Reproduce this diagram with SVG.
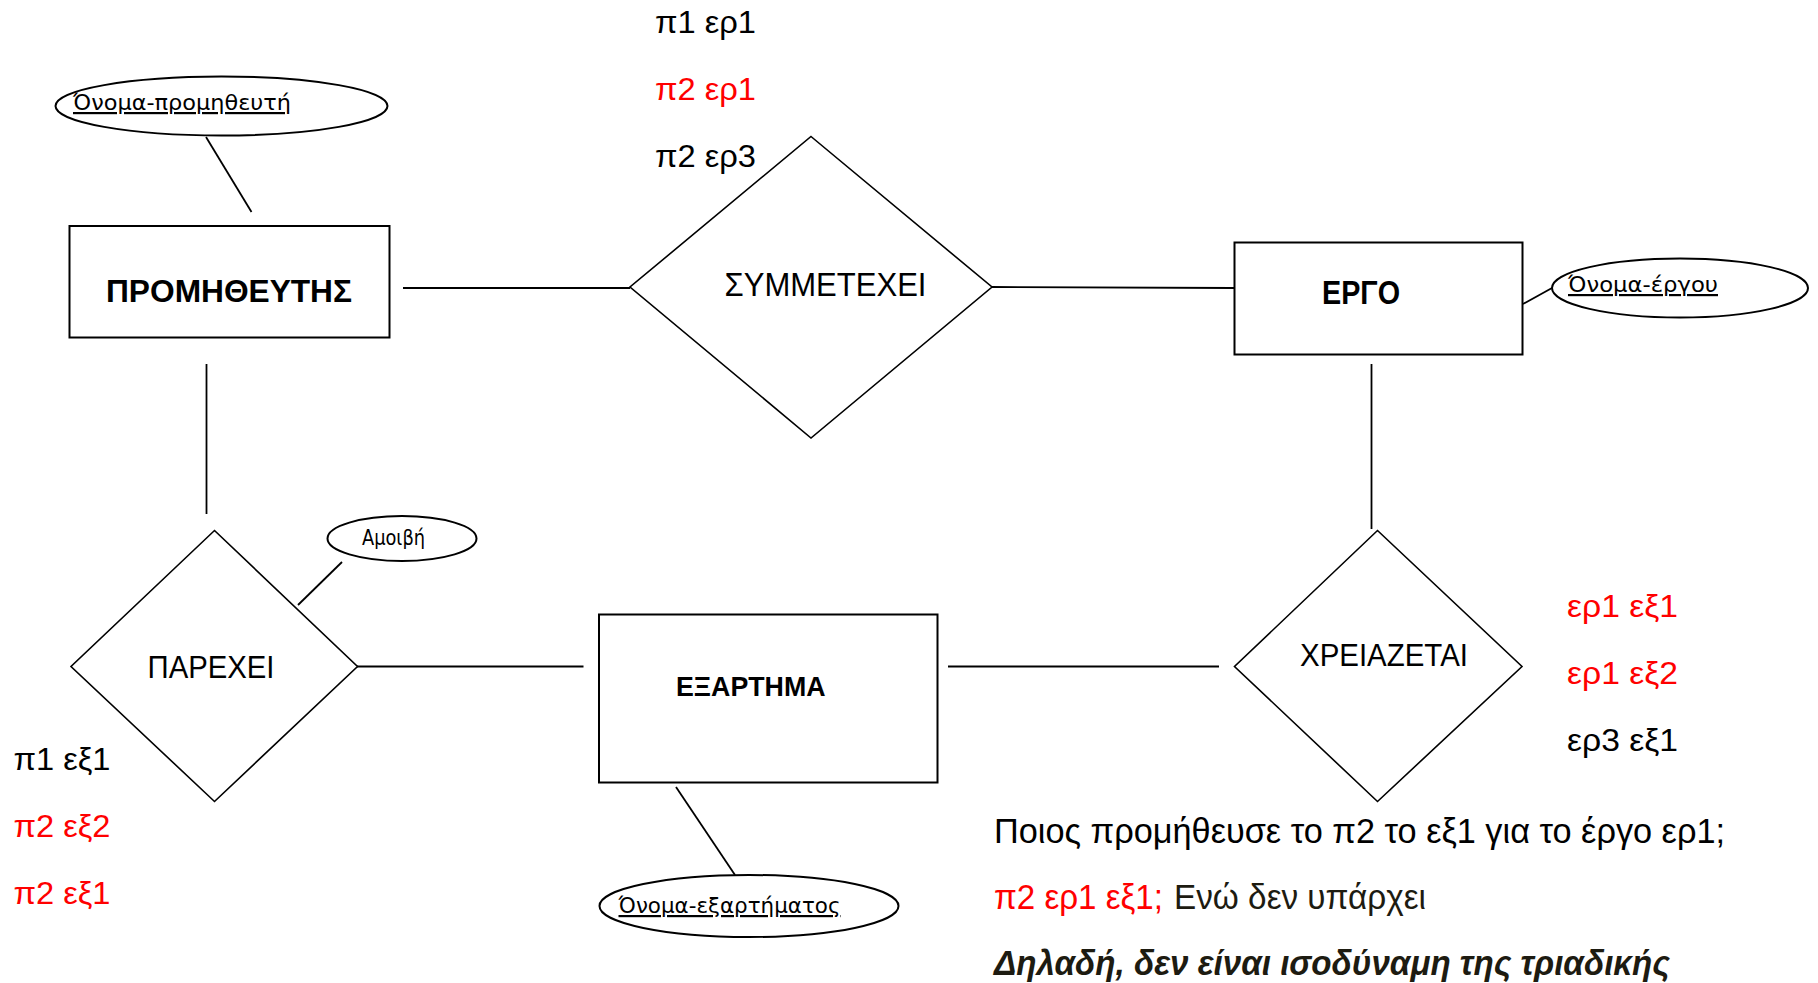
<svg xmlns="http://www.w3.org/2000/svg" width="1818" height="983" viewBox="0 0 1818 983">
<style>
.shape{fill:#fff;stroke:#000;stroke-width:2}
.dia{fill:#fff;stroke:#000;stroke-width:1.6}
.conn line{stroke:#000;stroke-width:1.8}
.t{font-family:"Liberation Sans",Arial,sans-serif;fill:#000}
.b{font-weight:bold}
.attr{font-family:"DejaVu Sans",sans-serif;font-size:22px;fill:#000}
.u{text-decoration:underline}
.red{fill:#ff0000}
.dk{fill:#1d1b11}
</style>
<rect width="1818" height="983" fill="#fff"/>
<g class="conn" id="connectors">
<line x1="206" y1="137" x2="251.5" y2="212"/>
<line x1="403" y1="288" x2="630" y2="288"/>
<line x1="992" y1="287" x2="1234" y2="288"/>
<line x1="1523" y1="304" x2="1552" y2="288"/>
<line x1="206.5" y1="364" x2="206.5" y2="514"/>
<line x1="1371.5" y1="364" x2="1371.5" y2="529"/>
<line x1="342" y1="562" x2="298" y2="605"/>
<line x1="357" y1="666.5" x2="583.5" y2="666.5"/>
<line x1="948" y1="666.5" x2="1219" y2="666.5"/>
<line x1="676" y1="787" x2="735" y2="875"/>
</g>
<g id="attr-onoma-promitheuti">
<ellipse class="shape" cx="221.5" cy="106" rx="166" ry="29.5"/>
<text class="attr u" x="73" y="110" textLength="218" lengthAdjust="spacingAndGlyphs">Όνομα-προμηθευτή</text>
</g>
<g id="promitheutis">
<rect class="shape" x="69.5" y="226" width="320" height="111.5"/>
<text class="t b" x="106" y="302" font-size="32" textLength="246" lengthAdjust="spacingAndGlyphs">ΠΡΟΜΗΘΕΥΤΗΣ</text>
</g>
<g id="symmetexei">
<polygon class="dia" points="811,136.5 992,287 811,438 630,287"/>
<text class="t" x="724.5" y="295.5" font-size="33" textLength="202" lengthAdjust="spacingAndGlyphs">ΣΥΜΜΕΤΕΧΕΙ</text>
</g>
<g id="ergo">
<rect class="shape" x="1234.5" y="242.5" width="288" height="112"/>
<text class="t b" x="1322" y="304" font-size="33" textLength="78" lengthAdjust="spacingAndGlyphs">ΕΡΓΟ</text>
</g>
<g id="attr-onoma-ergou">
<ellipse class="shape" cx="1680" cy="288" rx="128" ry="29.5"/>
<text class="attr u" x="1568" y="292" textLength="150" lengthAdjust="spacingAndGlyphs">Όνομα-έργου</text>
</g>
<g id="parexei">
<polygon class="dia" points="214.5,530.5 357.5,666.5 214.5,801.5 71,666.5"/>
<text class="t" x="147.5" y="678" font-size="31" textLength="127" lengthAdjust="spacingAndGlyphs">ΠΑΡΕΧΕΙ</text>
</g>
<g id="attr-amoivi">
<ellipse class="shape" cx="402" cy="538.5" rx="74.5" ry="22.5"/>
<text class="attr" x="362" y="545" font-size="19" textLength="63" lengthAdjust="spacingAndGlyphs">Αμοιβή</text>
</g>
<g id="eksartima">
<rect class="shape" x="599" y="614.5" width="338.5" height="168"/>
<text class="t b" x="676" y="696" font-size="28" textLength="149.5" lengthAdjust="spacingAndGlyphs">ΕΞΑΡΤΗΜΑ</text>
</g>
<g id="attr-onoma-eksartimatos">
<ellipse class="shape" cx="749" cy="906" rx="149.5" ry="31"/>
<text class="attr u" x="618.5" y="913" textLength="222" lengthAdjust="spacingAndGlyphs">Όνομα-εξαρτήματος</text>
</g>
<g id="xreiazetai">
<polygon class="dia" points="1377.5,530.5 1522,666.5 1377.5,801.5 1234.5,666.5"/>
<text class="t" x="1300" y="665.5" font-size="31" textLength="168" lengthAdjust="spacingAndGlyphs">ΧΡΕΙΑΖΕΤΑΙ</text>
</g>
<g id="pairs-symmetexei" class="t" font-size="32">
<text x="655" y="33" textLength="101" lengthAdjust="spacingAndGlyphs">π1 ερ1</text>
<text class="red" x="655" y="100" textLength="101" lengthAdjust="spacingAndGlyphs">π2 ερ1</text>
<text x="655" y="166.5" textLength="101" lengthAdjust="spacingAndGlyphs">π2 ερ3</text>
</g>
<g id="pairs-parexei" class="t" font-size="32">
<text x="13.5" y="770" textLength="97" lengthAdjust="spacingAndGlyphs">π1 εξ1</text>
<text class="red" x="13.5" y="837" textLength="97" lengthAdjust="spacingAndGlyphs">π2 εξ2</text>
<text class="red" x="13.5" y="904" textLength="97" lengthAdjust="spacingAndGlyphs">π2 εξ1</text>
</g>
<g id="pairs-xreiazetai" class="t" font-size="32">
<text class="red" x="1567" y="617" textLength="111" lengthAdjust="spacingAndGlyphs">ερ1 εξ1</text>
<text class="red" x="1567" y="684" textLength="111" lengthAdjust="spacingAndGlyphs">ερ1 εξ2</text>
<text x="1567" y="751" textLength="111" lengthAdjust="spacingAndGlyphs">ερ3 εξ1</text>
</g>
<g id="note" class="t" font-size="35">
<text x="994" y="843" textLength="731" lengthAdjust="spacingAndGlyphs">Ποιος προμήθευσε το π2 το εξ1 για το έργο ερ1;</text>
<text class="red" x="994" y="909" textLength="169" lengthAdjust="spacingAndGlyphs">π2 ερ1 εξ1;</text>
<text class="dk" x="1174" y="909" textLength="252" lengthAdjust="spacingAndGlyphs">Ενώ δεν υπάρχει</text>
<text class="dk b" font-style="italic" x="994" y="975" textLength="676" lengthAdjust="spacingAndGlyphs">Δηλαδή, δεν είναι ισοδύναμη της τριαδικής</text>
</g>
</svg>
